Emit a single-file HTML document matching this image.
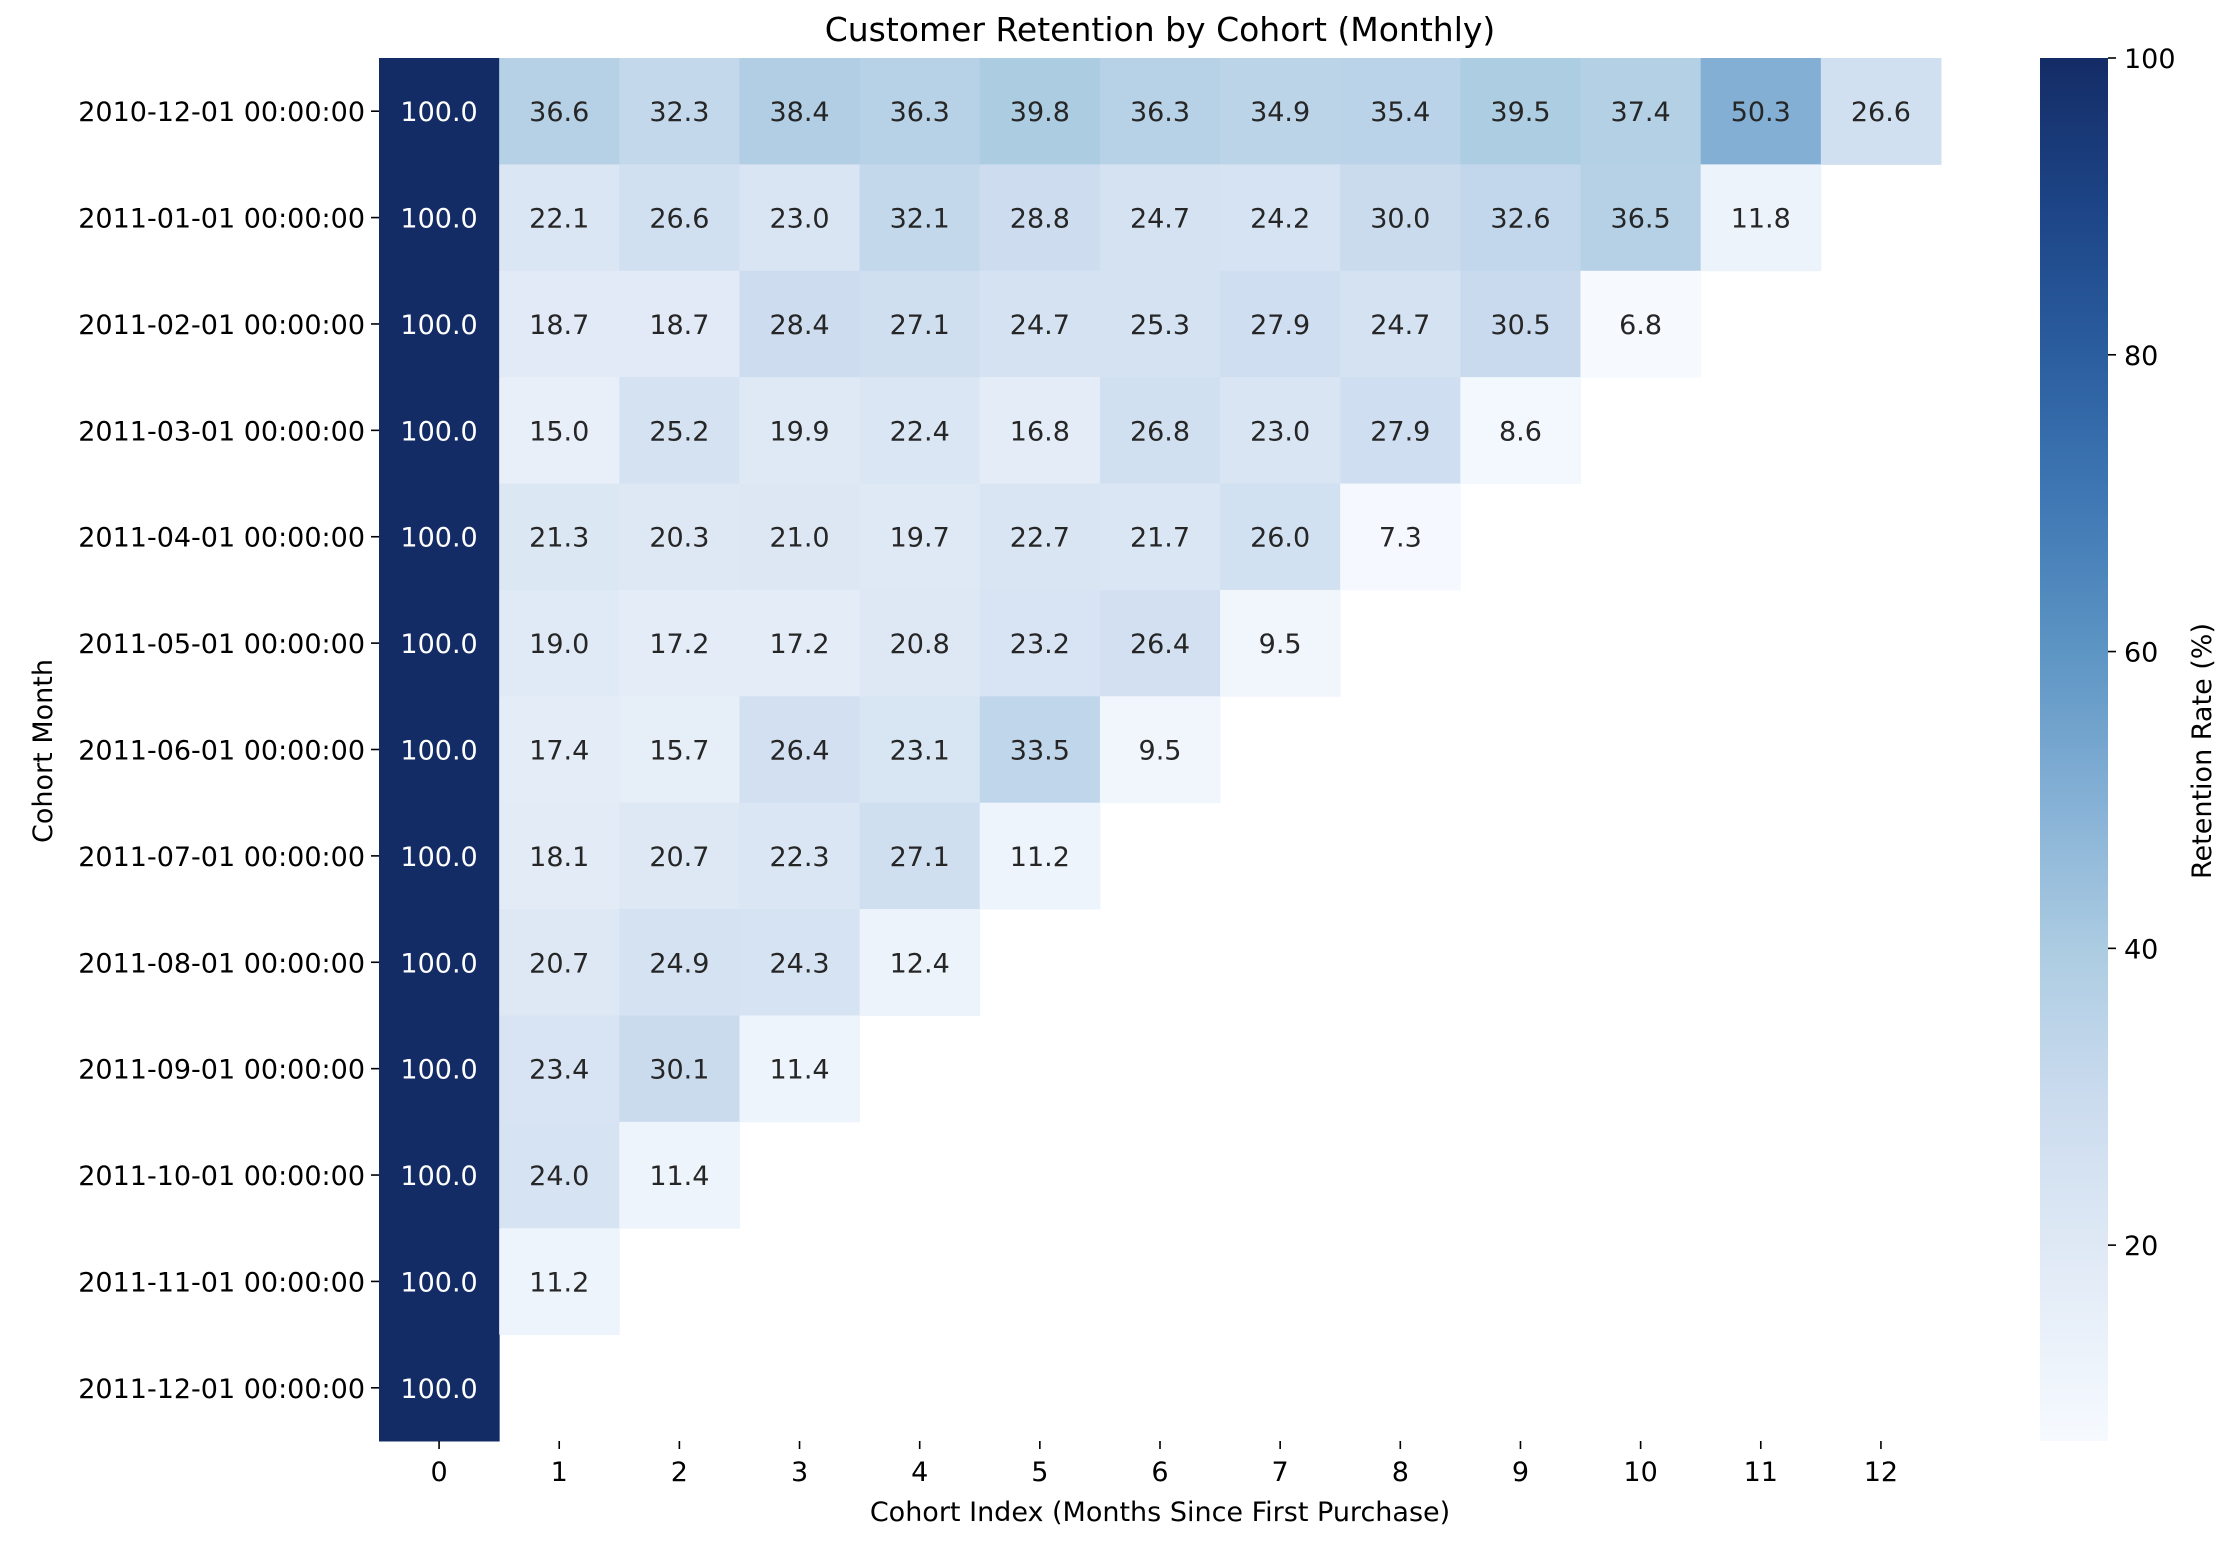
<!DOCTYPE html>
<html><head><meta charset="utf-8"><style>
html,body{margin:0;padding:0;background:#fff;}
svg{display:block;font-family:"DejaVu Sans","Liberation Sans",sans-serif;}
</style></head><body>
<svg id="chart" width="2226" height="1554" viewBox="0 0 2226 1554" xmlns="http://www.w3.org/2000/svg">
<defs>
<linearGradient id="cbgrad" x1="0" y1="1" x2="0" y2="0"></linearGradient>
</defs>
<text x="1160" y="41" text-anchor="middle" font-size="33" fill="#000">Customer Retention by Cohort (Monthly)</text>
<g id="cells"></g>
<g id="yaxis"></g>
<g id="xaxis"></g>
<text x="1160" y="1521" text-anchor="middle" font-size="27" fill="#000">Cohort Index (Months Since First Purchase)</text>
<text transform="translate(52,751) rotate(-90)" text-anchor="middle" font-size="27" fill="#000">Cohort Month</text>
<rect x="2040" y="58" width="68" height="1383" fill="url(#cbgrad)"/>
<g id="cbaxis"></g>
<text transform="translate(2211,751) rotate(-90)" text-anchor="middle" font-size="27" fill="#000">Retention Rate (%)</text>
</svg>
<script>
const cohorts = ["2010-12-01 00:00:00","2011-01-01 00:00:00","2011-02-01 00:00:00","2011-03-01 00:00:00","2011-04-01 00:00:00","2011-05-01 00:00:00","2011-06-01 00:00:00","2011-07-01 00:00:00","2011-08-01 00:00:00","2011-09-01 00:00:00","2011-10-01 00:00:00","2011-11-01 00:00:00","2011-12-01 00:00:00"];
const indices = [0,1,2,3,4,5,6,7,8,9,10,11,12];
const r0 = [100.0,36.6,32.3,38.4,36.3,39.8,36.3,34.9,35.4,39.5,37.4,50.3,26.6];
const r1 = [100.0,22.1,26.6,23.0,32.1,28.8,24.7,24.2,30.0,32.6,36.5,11.8];
const r2 = [100.0,18.7,18.7,28.4,27.1,24.7,25.3,27.9,24.7,30.5,6.8];
const r3 = [100.0,15.0,25.2,19.9,22.4,16.8,26.8,23.0,27.9,8.6];
const r4 = [100.0,21.3,20.3,21.0,19.7,22.7,21.7,26.0,7.3];
const r5 = [100.0,19.0,17.2,17.2,20.8,23.2,26.4,9.5];
const r6 = [100.0,17.4,15.7,26.4,23.1,33.5,9.5];
const r7 = [100.0,18.1,20.7,22.3,27.1,11.2];
const r8 = [100.0,20.7,24.9,24.3,12.4];
const r9 = [100.0,23.4,30.1,11.4];
const r10 = [100.0,24.0,11.4];
const r11 = [100.0,11.2];
const r12 = [100.0];
const rows = [r0,r1,r2,r3,r4,r5,r6,r7,r8,r9,r10,r11,r12];
const cbTicks = [20,40,60,80,100];

const NS="http://www.w3.org/2000/svg";
const L=379,R=1941,T=58,B=1441;
const cw=(R-L)/indices.length, ch=(B-T)/cohorts.length;
const all=rows.flat();
const vmin=Math.min(...all), vmax=Math.max(...all);
const xPos=i=>L+i*cw, yPos=j=>T+j*ch;
const cbY=v=>B-(v-vmin)/(vmax-vmin)*(B-T);
// colormap stops at fractions of the value range
const stops=[[0,[246,250,255]],[0.14,[223,233,245]],[0.25,[202,219,238]],[0.355,[172,204,226]],[0.46,[134,177,214]],[0.57,[93,149,196]],[0.68,[63,120,180]],[0.785,[43,94,159]],[0.89,[29,69,135]],[1,[20,44,102]]];
function color(v){let t=(v-vmin)/(vmax-vmin);t=Math.max(0,Math.min(1,t));
 for(let k=1;k<stops.length;k++){if(t<=stops[k][0]){const a=stops[k-1],b=stops[k];const f=(t-a[0])/(b[0]-a[0]);
 const c=a[1].map((x,i)=>Math.round(x+(b[1][i]-x)*f));return `rgb(${c})`;}}return "rgb(20,44,102)";}
function mk(tag,attrs,parent){const e=document.createElementNS(NS,tag);for(const k in attrs)e.setAttribute(k,attrs[k]);parent.appendChild(e);return e;}
const grad=document.getElementById('cbgrad');
stops.forEach(s=>{mk('stop',{offset:s[0],'stop-color':`rgb(${s[1]})`},grad);});
const gc=document.getElementById('cells');
rows.forEach((row,j)=>row.forEach((v,i)=>{
 const r=mk('rect',{x:xPos(i),y:yPos(j),width:cw+0.5,height:ch+0.5,fill:color(v)},gc);
 
 
 const t=mk('text',{x:xPos(i)+cw/2,y:yPos(j)+ch/2+10,'text-anchor':'middle','font-size':27,fill:((v-vmin)/(vmax-vmin)>0.6)?'#fff':'#262626'},gc);
 t.textContent=v.toFixed(1);
 
 
}));
const gy=document.getElementById('yaxis');
cohorts.forEach((c,j)=>{const y=yPos(j)+ch/2;
 const tk=mk('line',{x1:L-8,x2:L,y1:y,y2:y,stroke:'#000','stroke-width':1.6},gy);
 
 
 const t=mk('text',{x:L-14,y:y+10,'text-anchor':'end','font-size':27,fill:'#000'},gy);t.textContent=c;
 
 
});
const gx=document.getElementById('xaxis');
indices.forEach((c,i)=>{const x=xPos(i)+cw/2;
 const tk=mk('line',{x1:x,x2:x,y1:B,y2:B+8,stroke:'#000','stroke-width':1.6},gx);
 
 
 const t=mk('text',{x:x,y:B+40,'text-anchor':'middle','font-size':27,fill:'#000'},gx);t.textContent=c;
 
 
});
const gb=document.getElementById('cbaxis');
cbTicks.forEach(v=>{const y=cbY(v);
 const tk=mk('line',{x1:2108,x2:2116,y1:y,y2:y,stroke:'#000','stroke-width':1.6},gb);
 
 
 const t=mk('text',{x:2124,y:y+10,'font-size':27,fill:'#000'},gb);t.textContent=v;
 
 
});
</script>
</body></html>
